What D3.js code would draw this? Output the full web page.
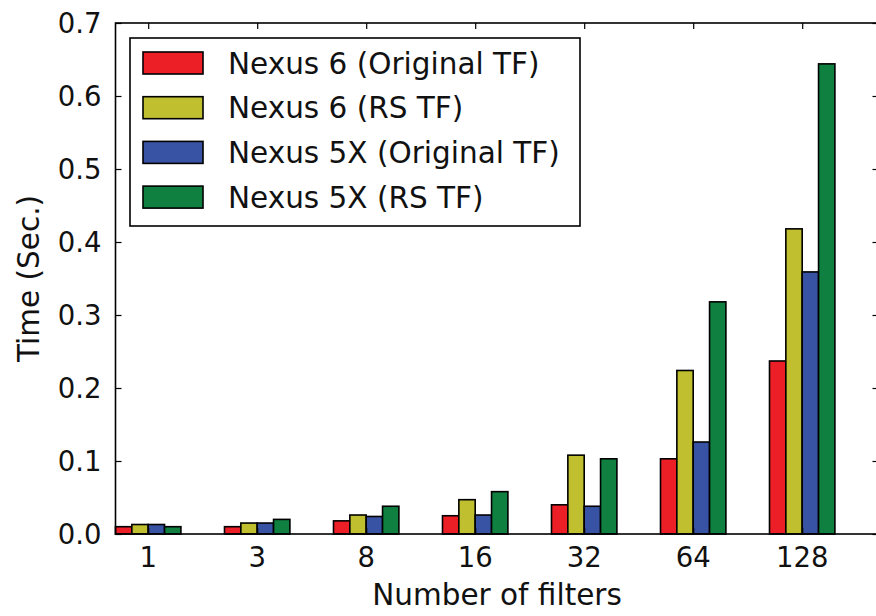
<!DOCTYPE html>
<html>
<head>
<meta charset="utf-8">
<script src="https://cdn.jsdelivr.net/npm/d3@7"></script>
<style>
  body { margin: 0; background: #fff; }
  text { font-family: "DejaVu Sans", sans-serif; fill: #111; }
</style>
</head>
<body>
<div id="container"></div>
<script>
// chart data
const filters = ["1", "3", "8", "16", "32", "64", "128"];
const seriesNames = ["Nexus 6 (Original TF)", "Nexus 6 (RS TF)", "Nexus 5X (Original TF)", "Nexus 5X (RS TF)"];
const nexus6Orig = [0.010, 0.010, 0.018, 0.025, 0.040, 0.103, 0.237];
const nexus6RS   = [0.013, 0.015, 0.026, 0.047, 0.108, 0.224, 0.418];
const nexus5Orig = [0.013, 0.015, 0.024, 0.026, 0.038, 0.126, 0.359];
const nexus5RS   = [0.010, 0.020, 0.038, 0.058, 0.103, 0.318, 0.644];
const yTicks = [0.0, 0.1, 0.2, 0.3, 0.4, 0.5, 0.6, 0.7];
const colors = ["#ec1f26", "#bfbf2f", "#3953a4", "#0f8040"];

const width = 876;
const height = 616;
const marginTop = 23;
const marginLeft = 115.5;
const marginBottom = 82;

const allSeries = [nexus6Orig, nexus6RS, nexus5Orig, nexus5RS];

// x: index scale with matplotlib style limits (-0.3 .. 6.7)
const x = d3.scaleLinear()
    .domain([-0.3, 6.7])
    .range([marginLeft, marginLeft + 7 * 109]);

const y = d3.scaleLinear()
    .domain([0, 0.7])
    .range([height - marginBottom, marginTop]);

const barW = 0.15;

const svg = d3.create("svg")
    .attr("width", width)
    .attr("height", height)
    .attr("viewBox", [0, 0, width, height]);

// bars
allSeries.forEach((vals, s) => {
  svg.append("g")
    .selectAll()
    .data(vals)
    .join("rect")
      .attr("x", (d, i) => x(i - 0.3 + s * barW))
      .attr("y", d => y(d))
      .attr("width", x(barW) - x(0))
      .attr("height", d => y(0) - y(d))
      .attr("fill", colors[s])
      .attr("stroke", "#000")
      .attr("stroke-width", 1.6);
});

const x0 = x.range()[0], x1 = x.range()[1];
const y0 = y.range()[0], y1 = y.range()[1];
const tickLen = 6;

// frame
svg.append("rect")
    .attr("x", x0).attr("y", y1)
    .attr("width", x1 - x0).attr("height", y0 - y1)
    .attr("fill", "none").attr("stroke", "#000").attr("stroke-width", 1.6);

// bottom / top ticks (inside)
svg.append("g")
    .attr("transform", `translate(0,${y0})`)
    .call(d3.axisTop(x).tickValues(d3.range(filters.length)).tickFormat("").tickSize(tickLen).tickSizeOuter(0))
    .call(g => g.select(".domain").remove());
svg.append("g")
    .attr("transform", `translate(0,${y1})`)
    .call(d3.axisBottom(x).tickValues(d3.range(filters.length)).tickFormat("").tickSize(tickLen).tickSizeOuter(0))
    .call(g => g.select(".domain").remove());
svg.append("g")
    .selectAll()
    .data(filters)
    .join("text")
      .attr("x", (d, i) => x(i))
      .attr("y", y0 + 33)
      .attr("text-anchor", "middle")
      .attr("font-size", 27.5)
      .text(d => d);

// left / right ticks
svg.append("g")
    .attr("transform", `translate(${x0},0)`)
    .call(d3.axisRight(y).tickValues(yTicks).tickFormat("").tickSize(tickLen).tickSizeOuter(0))
    .call(g => g.select(".domain").remove());
svg.append("g")
    .attr("transform", `translate(${x1},0)`)
    .call(d3.axisLeft(y).tickValues(yTicks).tickFormat("").tickSize(tickLen).tickSizeOuter(0))
    .call(g => g.select(".domain").remove());
svg.append("g")
    .selectAll()
    .data(yTicks)
    .join("text")
      .attr("x", x0 - 14)
      .attr("y", d => y(d))
      .attr("dy", "0.36em")
      .attr("text-anchor", "end")
      .attr("font-size", 27.5)
      .text(d => d.toFixed(1));

svg.selectAll(".tick line").attr("stroke", "#000").attr("stroke-width", 1.2);

// axis titles
svg.append("text")
    .attr("x", (x0 + x1) / 2)
    .attr("y", 605)
    .attr("text-anchor", "middle")
    .attr("font-size", 29.5)
    .text("Number of filters");
svg.append("text")
    .attr("transform", `translate(39,${(y0 + y1) / 2}) rotate(-90)`)
    .attr("text-anchor", "middle")
    .attr("font-size", 29.5)
    .text("Time (Sec.)");

// legend
const legend = svg.append("g");
legend.append("rect")
    .attr("x", 130).attr("y", 38)
    .attr("width", 450).attr("height", 188)
    .attr("fill", "#fff").attr("stroke", "#000").attr("stroke-width", 1.6);
seriesNames.forEach((name, i) => {
  const cy = 63 + i * 44.7;
  legend.append("rect")
      .attr("x", 143).attr("y", cy - 11)
      .attr("width", 60).attr("height", 22)
      .attr("fill", colors[i]).attr("stroke", "#000").attr("stroke-width", 1.6);
  legend.append("text")
      .attr("x", 228).attr("y", cy)
      .attr("dy", "0.36em")
      .attr("font-size", 29.5)
      .text(name);
});

container.append(svg.node());
</script>
</body>
</html>
